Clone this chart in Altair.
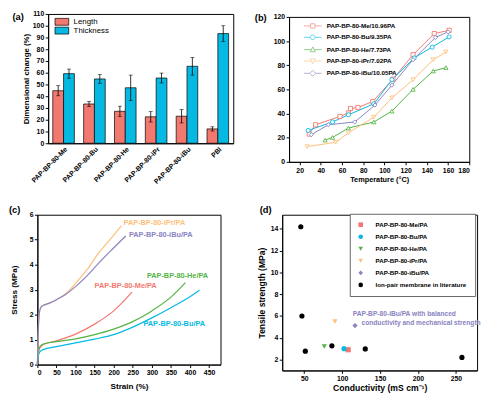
import altair as alt
import pandas as pd

FONT = "Liberation Sans"
C_ME, C_BU, C_HE, C_IPR, C_IBU = "#F27970", "#05B9E2", "#54B345", "#FFBE7A", "#8983BF"

# ---------------- (a) dimensional change ----------------
a_categories = ["PAP-BP-80-Me", "PAP-BP-80-Bu", "PAP-BP-80-He", "PAP-BP-80-iPr", "PAP-BP-80-iBu", "PBI"]
a_series = ["Length", "Thickness"]
a_colors = [C_ME, C_BU]
a_length = [44.7, 33.4, 27.2, 22.5, 23.0, 12.2]
a_length_err = [4.3, 2.2, 4.3, 4.4, 5.7, 1.8]
a_thickness = [59.2, 54.7, 47.2, 55.5, 65.5, 93.3]
a_thickness_err = [3.9, 3.7, 10.8, 4.2, 7.5, 6.7]
a_yticks = list(range(0, 111, 10))

# ---------------- (b) conductivity vs temperature ----------------
b_series = ["PAP-BP-80-Me/10.96PA", "PAP-BP-80-Bu/9.35PA", "PAP-BP-80-He/7.73PA",
            "PAP-BP-80-iPr/7.02PA", "PAP-BP-80-iBu/10.05PA"]
b_colors = [C_ME, C_BU, C_HE, C_IPR, C_IBU]
b_shapes = ["square", "circle", "triangle-up", "triangle-down", "diamond"]
b_legend_paths = [
    "M-9,0H-2.2M2.2,0H9M-2.2,-2.2H2.2V2.2H-2.2Z",
    "M-9,0H-2.4M2.4,0H9M-2.4,0A2.4,2.4 0 1,0 2.4,0A2.4,2.4 0 1,0 -2.4,0Z",
    "M-9,0H-1.5M1.5,0H9M0,-2.8L2.6,2.2H-2.6Z",
    "M-9,0H-1.5M1.5,0H9M0,2.8L2.6,-2.2H-2.6Z",
    "M-9,0H-3M3,0H9M0,-3L3,0L0,3L-3,0Z",
]
b_temp_me = [29, 35, 58, 66, 68, 75, 89, 108, 127, 147, 161]
b_val_me = [23.0, 30.7, 37.6, 40.5, 44.2, 45.0, 50.0, 68.5, 88.7, 106.2, 108.9]
b_temp_bu = [28, 51, 66, 90, 107, 128, 145, 161]
b_val_bu = [26.0, 33.0, 39.0, 48.0, 68.0, 86.0, 95.0, 103.5]
b_temp_he = [44, 51, 66, 90, 107, 127, 146, 158]
b_val_he = [18.0, 20.2, 28.0, 33.0, 42.0, 60.0, 75.2, 78.0]
b_temp_ipr = [27, 54, 66, 90, 107, 127, 146, 158]
b_val_ipr = [12.6, 16.2, 24.0, 37.0, 53.0, 68.0, 84.6, 91.0]
b_temp_ibu = [31, 47, 72, 91, 107, 127, 148, 160]
b_val_ibu = [22.5, 30.7, 33.0, 47.0, 63.5, 84.6, 103.0, 107.6]
b_xticks = list(range(20, 181, 20))
b_yticks = list(range(0, 121, 20))

# ---------------- (c) stress-strain ----------------
c_series = ["PAP-BP-80-Me/PA", "PAP-BP-80-Bu/PA", "PAP-BP-80-He/PA", "PAP-BP-80-iPr/PA", "PAP-BP-80-iBu/PA"]
c_colors = [C_ME, C_BU, C_HE, C_IPR, C_IBU]
c_strain_me = [0, 2, 6, 15, 50, 100, 150, 200, 248]
c_stress_me = [0, 0.4, 0.65, 0.8, 0.95, 1.22, 1.62, 2.15, 2.9]
c_strain_bu = [0, 2, 6, 15, 50, 100, 150, 200, 250, 300, 350, 400, 425]
c_stress_bu = [0, 0.3, 0.5, 0.6, 0.72, 0.87, 1.02, 1.2, 1.5, 1.87, 2.28, 2.72, 2.98]
c_strain_he = [0, 2, 6, 15, 50, 100, 150, 200, 250, 300, 350, 388]
c_stress_he = [0, 0.45, 0.7, 0.82, 0.92, 1.03, 1.2, 1.42, 1.72, 2.15, 2.7, 3.28]
c_strain_ipr = [0, 1.5, 3, 5, 8, 14, 30, 50, 75, 100, 130, 160, 190, 220]
c_stress_ipr = [0, 0.8, 1.6, 2.05, 2.25, 2.36, 2.45, 2.6, 2.85, 3.25, 3.8, 4.45, 5.0, 5.55]
c_strain_ibu = [0, 1.5, 3, 5, 8, 14, 30, 50, 75, 100, 130, 160, 190, 232]
c_stress_ibu = [0, 0.8, 1.6, 2.05, 2.25, 2.36, 2.45, 2.6, 2.82, 3.12, 3.55, 4.05, 4.52, 5.15]
c_label_x = [150, 278, 287, 226, 240]
c_label_y = [3.15, 1.63, 3.55, 5.67, 5.17]
c_xticks = list(range(0, 451, 50))
c_yticks = list(range(0, 7))

# ---------------- (d) tensile strength vs conductivity ----------------
d_series = ["PAP-BP-80-Me/PA", "PAP-BP-80-Bu/PA", "PAP-BP-80-He/PA", "PAP-BP-80-iPr/PA",
            "PAP-BP-80-iBu/PA", "Ion-pair membrane in literature"]
d_colors = [C_ME, C_BU, C_HE, C_IPR, C_IBU, "black"]
d_shapes = ["square", "circle", "triangle-down", "triangle-down", "diamond", "circle"]
d_cond = [108, 102.5, 76.5, 90.5, 117]
d_strength = [2.9, 3.0, 3.2, 5.5, 5.12]
d_lit_cond = [45.5, 47, 51.5, 86.5, 130.5, 258]
d_lit_strength = [14.2, 6.0, 2.77, 3.26, 2.98, 2.2]
d_note = ["PAP-BP-80-iBu/PA with balanced", "conductivity and mechanical strength"]
d_note_x = [114, 125.5]
d_note_y = [6.14, 5.32]
d_xticks = [50, 100, 150, 200, 250]
d_yticks = list(range(2, 15, 2))

INDEP = dict(color="independent", shape="independent", stroke="independent")


def spacer(w, h):
    return alt.Chart(pd.DataFrame({"v": [0]})).mark_point(opacity=0, size=1).encode(
        x=alt.X("v:Q", axis=None), y=alt.Y("v:Q", axis=None)
    ).properties(width=w, height=h, view=alt.ViewBackground(stroke="transparent"))


def panel_label(text, px, py):
    return alt.Chart(pd.DataFrame({"t": [text]})).mark_text(
        font=FONT, fontSize=9.5, fontWeight="bold", align="left", baseline="middle", color="black"
    ).encode(text="t:N", x=alt.value(px), y=alt.value(py))


# ---------- build (a) ----------
rows = []
for cat, v, e in zip(a_categories, a_length, a_length_err):
    rows.append({"cat": cat, "series": "Length", "value": v, "lo": v - e, "hi": v + e})
for cat, v, e in zip(a_categories, a_thickness, a_thickness_err):
    rows.append({"cat": cat, "series": "Thickness", "value": v, "lo": v - e, "hi": v + e})
df_a = pd.DataFrame(rows)

xa = alt.X("cat:N", sort=a_categories, title=None,
           scale=alt.Scale(paddingInner=0.3, paddingOuter=0.15),
           axis=alt.Axis(labelAngle=-45, labelAlign="right", labelBaseline="top",
                         labelFontSize=7, ticks=False, labelPadding=2))
xoa = alt.XOffset("series:N", sort=a_series)


def ya(field):
    return alt.Y(field, title="Dimensional change (%)",
                 scale=alt.Scale(domain=[0, 110], nice=False),
                 axis=alt.Axis(values=a_yticks, titlePadding=2, titleFontSize=8))


bars_a = alt.Chart(df_a).mark_bar(stroke="black", strokeWidth=0.7).encode(
    x=xa, xOffset=xoa, y=ya("value:Q"),
    color=alt.Color("series:N", scale=alt.Scale(domain=a_series, range=a_colors),
                    legend=alt.Legend(title=None, orient="none", legendX=10, legendY=4,
                                      symbolType="M-7,-3.5H7V3.5H-7Z", symbolSize=4,
                                      symbolStrokeColor="black", symbolStrokeWidth=0.7,
                                      labelOffset=8, labelFontSize=8, labelFontWeight="normal",
                                      rowPadding=-1.7, padding=0)))
err_a = alt.Chart(df_a).mark_rule(color="black", strokeWidth=0.8).encode(
    x=xa, xOffset=xoa, y=ya("lo:Q"), y2="hi:Q")
cap_lo = alt.Chart(df_a).mark_tick(color="black", thickness=0.8, size=4).encode(
    x=xa, xOffset=xoa, y=ya("lo:Q"))
cap_hi = alt.Chart(df_a).mark_tick(color="black", thickness=0.8, size=4).encode(
    x=xa, xOffset=xoa, y=ya("hi:Q"))
panel_a = alt.layer(bars_a, err_a, cap_lo, cap_hi, panel_label("(a)", -36.5, 3.5)).properties(
    width=189, height=132)

# ---------- build (b) ----------
rows = []
for s, ts, vs in zip(b_series,
                     [b_temp_me, b_temp_bu, b_temp_he, b_temp_ipr, b_temp_ibu],
                     [b_val_me, b_val_bu, b_val_he, b_val_ipr, b_val_ibu]):
    for i, (t, v) in enumerate(zip(ts, vs)):
        rows.append({"series": s, "T": t, "value": v, "idx": i})
df_b = pd.DataFrame(rows)

xb = alt.X("T:Q", title="Temperature (°C)", scale=alt.Scale(domain=[10, 180], nice=False),
           axis=alt.Axis(values=b_xticks, titlePadding=3, titleFontSize=7.5))
yb = alt.Y("value:Q", title=None, scale=alt.Scale(domain=[0, 120], nice=False),
           axis=alt.Axis(values=b_yticks))
series_layers_b = []
for s, col, shp in zip(b_series, b_colors, b_shapes):
    base = alt.Chart(df_b).transform_filter(alt.datum.series == s)
    series_layers_b.append(base.mark_line(color=col, strokeWidth=1).encode(x=xb, y=yb, order="idx:Q"))
for s, col, shp in zip(b_series, b_colors, b_shapes):
    base = alt.Chart(df_b).transform_filter(alt.datum.series == s)
    series_layers_b.append(base.mark_point(
        shape=shp, filled=False, stroke=col, fill="white", fillOpacity=1, size=18,
        strokeWidth=0.9, opacity=1).encode(x=xb, y=yb))
leg_b = alt.Legend(title=None, orient="none", legendX=21, legendY=6, symbolSize=4,
                   labelOffset=11, labelFontSize=6.4, rowPadding=2.6, padding=0,
                   symbolStrokeWidth=0.9)
legend_b = alt.Chart(df_b).transform_filter("false").mark_point(filled=False, strokeWidth=0.9).encode(
    x=xb, y=yb,
    stroke=alt.Stroke("series:N", scale=alt.Scale(domain=b_series, range=b_colors), legend=leg_b),
    shape=alt.Shape("series:N", scale=alt.Scale(domain=b_series, range=b_legend_paths), legend=leg_b))
panel_b = alt.layer(*series_layers_b, legend_b, panel_label("(b)", -35, 1.5)).properties(
    width=184, height=148)

# ---------- build (c) ----------
rows = []
for s, xs, ys in zip(c_series,
                     [c_strain_me, c_strain_bu, c_strain_he, c_strain_ipr, c_strain_ibu],
                     [c_stress_me, c_stress_bu, c_stress_he, c_stress_ipr, c_stress_ibu]):
    for i, (x, y) in enumerate(zip(xs, ys)):
        rows.append({"series": s, "strain": x, "stress": y, "idx": i})
df_c = pd.DataFrame(rows)
df_c_lab = pd.DataFrame({"series": c_series, "strain": c_label_x, "stress": c_label_y})

xc = alt.X("strain:Q", title="Strain (%)", scale=alt.Scale(domain=[0, 480], nice=False),
           axis=alt.Axis(values=c_xticks, titlePadding=6, titleFontSize=8.3))
yc = alt.Y("stress:Q", title="Stress (MPa)", scale=alt.Scale(domain=[0, 6], nice=False),
           axis=alt.Axis(values=c_yticks, titlePadding=11, titleFontSize=8.3))
color_c = alt.Color("series:N", scale=alt.Scale(domain=c_series, range=c_colors), legend=None)
lines_c = alt.Chart(df_c).mark_line(strokeWidth=1.2, interpolate="monotone").encode(
    x=xc, y=yc, color=color_c, order="idx:Q")
labels_c = alt.Chart(df_c_lab).mark_text(font=FONT, fontSize=7.5, fontWeight="bold",
                                         align="left", baseline="middle").encode(
    x=xc, y=yc, text="series:N", color=color_c)
panel_c = alt.layer(lines_c, labels_c, panel_label("(c)", -29, -5)).properties(width=187, height=153)

# ---------- build (d) ----------
rows = []
for s, x, y in zip(d_series[:5], d_cond, d_strength):
    rows.append({"series": s, "cond": x, "ts": y})
for x, y in zip(d_lit_cond, d_lit_strength):
    rows.append({"series": d_series[5], "cond": x, "ts": y})
df_d = pd.DataFrame(rows)
df_note = pd.DataFrame({"t": d_note, "cond": d_note_x, "ts": d_note_y})

xd = alt.X("cond:Q", title="Conductivity (mS cm⁻¹)", scale=alt.Scale(domain=[21, 278], nice=False),
           axis=alt.Axis(values=d_xticks, titlePadding=2, titleFontSize=8.8))
yd = alt.Y("ts:Q", title="Tensile strength (MPa)", scale=alt.Scale(domain=[1, 15.3], nice=False),
           axis=alt.Axis(values=d_yticks, titlePadding=4, titleFontSize=8.7))
leg_d = alt.Legend(title=None, orient="none", legendX=69, legendY=-1, strokeColor="#666666",
                   fillColor="white", padding=8, symbolSize=22, labelOffset=12, rowPadding=5.3,
                   labelFontSize=6.3, symbolStrokeWidth=0)
points_d = alt.Chart(df_d).mark_point(filled=True, size=28, opacity=1).encode(
    x=xd, y=yd,
    color=alt.Color("series:N", scale=alt.Scale(domain=d_series, range=d_colors), legend=leg_d),
    shape=alt.Shape("series:N", scale=alt.Scale(domain=d_series, range=d_shapes), legend=leg_d))
note_d = alt.Chart(df_note).mark_text(font=FONT, fontSize=6.8, fontWeight="bold", align="left",
                                      baseline="middle", color=C_IBU).encode(x=xd, y=yd, text="t:N")
panel_d = alt.layer(points_d, note_d, panel_label("(d)", -23, -5)).properties(width=199, height=159)

# ---------- layout ----------
col_b = alt.vconcat(spacer(1, 3), panel_b, spacing=0, bounds="flush").resolve_scale(**INDEP)
row1 = alt.hconcat(spacer(11, 1), panel_a, spacer(57, 1), col_b,
                   spacing=0, bounds="flush").resolve_scale(**INDEP)
row2 = alt.hconcat(panel_c, spacer(63, 1), panel_d, spacing=0, bounds="flush").resolve_scale(**INDEP)

chart = alt.vconcat(row1, row2, spacing=19).resolve_scale(**INDEP).properties(
    padding={"left": 0, "top": -3, "right": 0, "bottom": 0}
).configure_view(stroke="black", strokeWidth=1).configure_axis(
    labelFont=FONT, labelFontWeight="bold", labelColor="black", labelFontSize=7,
    titleFont=FONT, titleFontWeight="bold", titleColor="black", titleFontSize=8,
    domainColor="black", tickColor="black", tickSize=3, grid=False, labelPadding=1.5,
    domainWidth=1, tickWidth=1
).configure_legend(
    labelFont=FONT, labelFontWeight="bold", labelColor="black"
)

chart.save("out.html", embed_options={"renderer": "svg", "actions": False})
